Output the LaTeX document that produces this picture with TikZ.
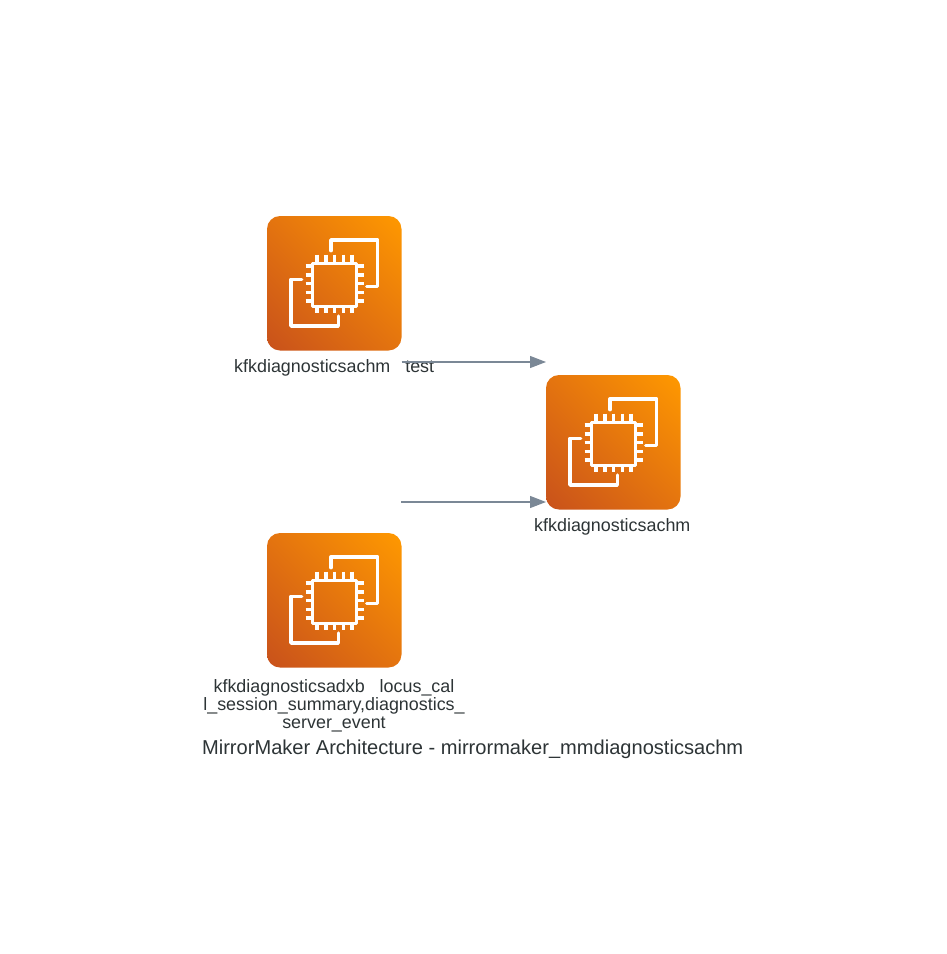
\documentclass[tikz,border=0pt]{standalone}
\usepackage{fontspec}
\setmainfont{Liberation Sans}
\usetikzlibrary{arrows.meta,calc,shadings}
\definecolor{inkc}{HTML}{2D3436}
\definecolor{edgec}{HTML}{7B8896}
\definecolor{orgA}{HTML}{C8511B}
\definecolor{orgB}{HTML}{FF9900}
\definecolor{orgM}{HTML}{E4740F}
\tikzset{
  x=1pt,y=-1pt,
  glyph/.style={draw=white,line width=3.4pt,line join=round,line cap=round},
  pinline/.style={draw=white,line width=3.2pt,line cap=butt},
  chipbox/.style={
    shape=rectangle,rounded corners=13pt,minimum width=134.5pt,minimum height=134.5pt,
    inner sep=0pt,outer sep=0pt,anchor=north west,
    path picture={
      \shade[lower left=orgA,upper right=orgB,lower right=orgM,upper left=orgM]
        (path picture bounding box.south west) rectangle (path picture bounding box.north east);
    }},
  chipglyph/.pic={
    \draw[glyph] (45.7,47.3) rectangle (89.7,90.7);
    \draw[glyph] (64,34.7) -- (64,24) -- (110.7,24) -- (110.7,70.7) -- (99.7,70.7);
    \draw[glyph] (34.7,63.3) -- (24,63.3) -- (24,110) -- (71.3,110) -- (71.3,100);
    \foreach \p in {50,59,67.3,76.7,85}{
      \draw[pinline] (\p,38.5) -- (\p,46);
      \draw[pinline] (\p,91) -- (\p,96.5);
      \draw[pinline] (38.5,\p) -- (45,\p);
      \draw[pinline] (90,\p) -- (96.5,\p);
    }
  },
  caption/.style={text=inkc,font=\fontsize{17.9}{18}\selectfont,align=center,inner sep=0pt,anchor=base},
  maintitle/.style={text=inkc,font=\fontsize{20.08}{22}\selectfont,inner sep=0pt,anchor=base},
  flow/.style={draw=edgec,line width=1.1pt,-{Triangle[length=16pt,width=12pt]}}
}
\begin{document}
\begin{tikzpicture}
\useasboundingbox (0,0) rectangle (947,954);
\node[chipbox] (srcA) at (267,216) {};
\node[chipbox] (dst) at (546,375) {};
\node[chipbox] (srcB) at (267,533) {};
\pic at (srcA.north west) {chipglyph};
\pic at (dst.north west) {chipglyph};
\pic at (srcB.north west) {chipglyph};
\node[caption] (srcAlabel) at (334.2,372) {kfkdiagnosticsachm\ \ \ test};
\node[caption] (dstlabel) at (612.3,531) {kfkdiagnosticsachm};
\node[caption,anchor=north] (srcBlabel) at (334,679.3) {kfkdiagnosticsadxb\ \ \ locus\_cal\\l\_session\_summary,diagnostics\_\\server\_event};
\node[maintitle] (title) at (472.7,754) {MirrorMaker Architecture - mirrormaker\_mmdiagnosticsachm};
\coordinate (a1) at ($(srcA.south east)+(0,11.5)$);
\coordinate (a2) at ($(dst.north west)+(0,-13)$);
\coordinate (b1) at ($(srcB.north east)+(-0.5,-31)$);
\coordinate (b2) at ($(dst.south west)+(0,-7.5)$);
\draw[flow] (a1) -- (a2);
\draw[flow] (b1) -- (b2);
\end{tikzpicture}
\end{document}
